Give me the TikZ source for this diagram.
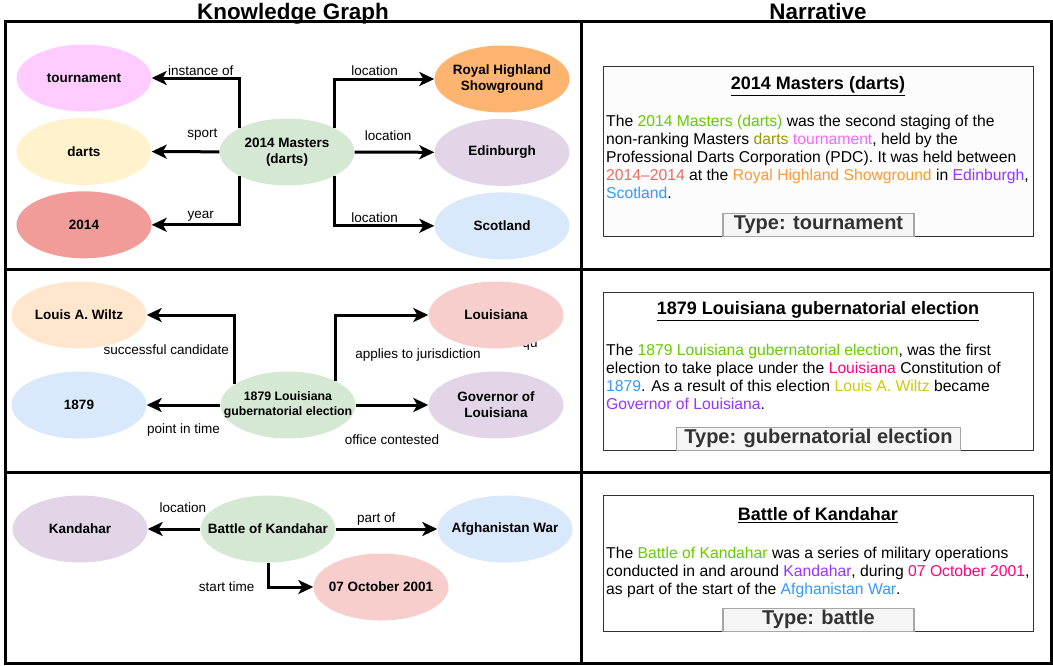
\documentclass[tikz,border=0pt]{standalone}
\usepackage{fontspec}
\setmainfont{Liberation Sans}
\usetikzlibrary{shapes.geometric, positioning, arrows.meta}

\definecolor{cTour}{HTML}{FFCCFF}
\definecolor{cDarts}{HTML}{FFF2CC}
\definecolor{cYear}{HTML}{F19C99}
\definecolor{cGreen}{HTML}{D5E8D4}
\definecolor{cOrange}{HTML}{FFB570}
\definecolor{cPurple}{HTML}{E1D5E7}
\definecolor{cBlue}{HTML}{DAE8FC}
\definecolor{cPeach}{HTML}{FFE6CC}
\definecolor{cRed}{HTML}{F8CECC}
\definecolor{tGreen}{HTML}{66CC00}
\definecolor{tOlive}{HTML}{999900}
\definecolor{tPink}{HTML}{FF66FF}
\definecolor{tRed}{HTML}{EA6B66}
\definecolor{tOrange}{HTML}{FF9933}
\definecolor{tPurple}{HTML}{9933FF}
\definecolor{tBlue}{HTML}{3399FF}
\definecolor{tMag}{HTML}{FF0080}
\definecolor{tYellow}{HTML}{CCCC00}
\definecolor{tGray}{HTML}{333333}

\tikzset{
x=1pt, y=-1pt, % one unit is one pixel, y runs downwards
>={Stealth[length=15pt,width=14pt,inset=4pt]}, % big solid heads
ent/.style={ellipse, minimum width=135pt, minimum height=67pt, inner xsep=-25pt, inner ysep=0pt, align=center, font=\fontsize{13.5}{16}\selectfont\bfseries}, % entity nodes
rel/.style={->, line width=3pt}, % relation edges
lbl/.style={font=\fontsize{13.5}{16}\selectfont, inner sep=2pt}, % edge labels
frame/.style={line width=3pt}, % table rules
hdr/.style={font=\fontsize{22.4}{26}\selectfont\bfseries}, % column headings
story/.style={draw=tGray, line width=1pt, minimum width=430pt, anchor=north west}, % narrative box
ttl/.style={font=\fontsize{18}{22}\selectfont\bfseries}, % narrative title
body/.style={font=\fontsize{15.7}{18}\selectfont, align=left, inner sep=0pt, anchor=north west}, % narrative text
typ/.style={draw=gray!70, line width=1.5pt, fill=black!4, text=tGray, minimum height=23pt, inner sep=0pt, anchor=south, font=\fontsize{20}{24}\selectfont\bfseries}, % type tag
}

\begin{document}
\begin{tikzpicture}
\useasboundingbox (0,0) rectangle (1053,665);

\node[hdr, anchor=base] (kg) at (293,19) {Knowledge Graph};
\node[hdr, anchor=base] (nar) at (818,19) {Narrative};

\draw[frame] (5,21) rectangle (1051,663);
\draw[frame] (581,21) -- (581,663);
\draw[frame] (5,269) -- (1051,269);
\draw[frame] (5,472) -- (1051,472);

% 2014 Masters
\node[ent, fill=cGreen] (m14) at (287,152) {2014 Masters\\(darts)};
\node[ent, fill=cTour] (tour) at (84,78) {tournament};
\node[ent, fill=cDarts, below=6pt of tour] (darts) {darts};
\node[ent, fill=cYear, below=6pt of darts] (y14) {2014};
\node[ent, fill=cOrange] (rhs) at (502,79) {Royal Highland\\Showground};
\node[ent, fill=cPurple, below=6pt of rhs] (edi) {Edinburgh};
\node[ent, fill=cBlue, below=6pt of edi] (sco) {Scotland};

\draw[rel] (m14.north west) |- node[lbl, above=-1pt, pos=0.72] {instance of} (tour);
\draw[rel] (m14) -- node[lbl, above=8pt, pos=0.25] {sport} (darts);
\draw[rel] (m14.south west) |- node[lbl, above, pos=0.72] {year} (y14);
\draw[rel] (m14.north east) |- node[lbl, above, pos=0.7] {location} (rhs);
\draw[rel] (m14) -- node[lbl, above=8pt, pos=0.42] {location} (edi);
\draw[rel] (m14.south east) |- node[lbl, above, pos=0.7] {location} (sco);

% 1879 election
\node[lbl, anchor=base] (qu) at (530,347) {qu};
\node[ent, fill=cGreen, font=\fontsize{12.3}{15}\selectfont\bfseries] (gub) at (288,405) {1879 Louisiana\\gubernatorial election};
\node[ent, fill=cPeach] (wiltz) at (79,315) {Louis A. Wiltz};
\node[ent, fill=cBlue] (y79) at (79,405) {1879};
\node[ent, fill=cRed] (lou) at (496,315) {Louisiana};
\node[ent, fill=cPurple] (gov) at (496,405) {Governor of\\Louisiana};

\draw[rel] (gub.159) |- node[lbl, left=2pt, pos=0.25] {successful candidate} (wiltz);
\draw[rel] (gub) -- node[lbl, below=15pt] {point in time} (y79);
\draw[rel] (gub.north east) |- node[lbl, anchor=west, xshift=16pt, pos=0.2] {applies to jurisdiction} (lou);
\draw[rel] (gub) -- node[lbl, below=26pt] {office contested} (gov);

% Battle of Kandahar
\node[ent, fill=cGreen] (bat) at (268,529) {Battle of Kandahar};
\node[ent, fill=cPurple] (kan) at (80,529) {Kandahar};
\node[ent, fill=cBlue] (afg) at (505,529) {Afghanistan War};
\node[ent, fill=cRed] (oct) at (381,587) {07 October 2001};

\draw[rel] (bat) -- node[lbl, above=13pt, pos=0.33] {location} (kan);
\draw[rel] (bat) -- node[lbl, above=0pt, pos=0.4] {part of} (afg);
\draw[rel] (bat) |- node[lbl, left=10pt, pos=0.5] {start time} (oct);

% narratives
\node[story, fill=black!1, minimum height=170pt] (box1) at (603,66) {};
\node[ttl] (ttl1) at (818,86) {\underline{2014 Masters (darts)}};
\node[body] (txt1) at (606,115) {The \textcolor{tGreen}{2014 Masters (darts)} was the second staging of the\\
non-ranking Masters \textcolor{tOlive}{darts} \textcolor{tPink}{tournament}, held by the\\
Professional Darts Corporation (PDC). It was held between\\
\textcolor{tRed}{2014--2014} at the \textcolor{tOrange}{Royal Highland Showground} in \textcolor{tPurple}{Edinburgh},\\
\textcolor{tBlue}{Scotland}.};
\node[typ, minimum width=191pt] (ty1) at (box1.south) {Type: tournament};

\node[story, fill=white, minimum height=158pt] (box2) at (603,292) {};
\node[ttl] (ttl2) at (818,311) {\underline{1879 Louisiana gubernatorial election}};
\node[body] (txt2) at (606,344) {The \textcolor{tGreen}{1879 Louisiana gubernatorial election}, was the first\\
election to take place under the \textcolor{tMag}{Louisiana} Constitution of\\
\textcolor{tBlue}{1879}. As a result of this election \textcolor{tYellow}{Louis A. Wiltz} became\\
\textcolor{tPurple}{Governor of Louisiana}.};
\node[typ, minimum width=284pt] (ty2) at (box2.south) {Type: gubernatorial election};

\node[story, fill=white, minimum height=136pt] (box3) at (603,495) {};
\node[ttl] (ttl3) at (818,515) {\underline{Battle of Kandahar}};
\node[body] (txt3) at (606,547) {The \textcolor{tGreen}{Battle of Kandahar} was a series of military operations\\
conducted in and around \textcolor{tPurple}{Kandahar}, during \textcolor{tMag}{07 October 2001},\\
as part of the start of the \textcolor{tBlue}{Afghanistan War}.};
\node[typ, minimum width=191pt] (ty3) at (box3.south) {Type: battle};
\end{tikzpicture}
\end{document}
